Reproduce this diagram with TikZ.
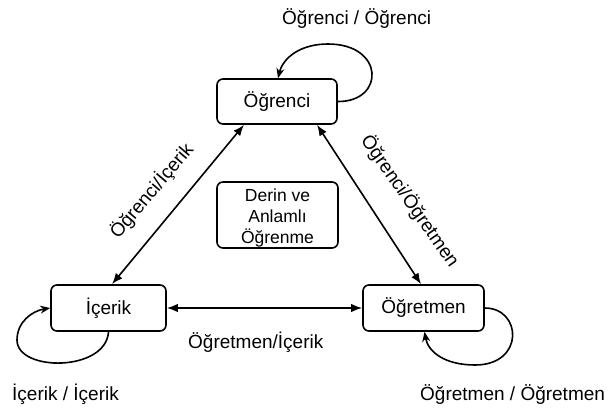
\documentclass[tikz,border=0pt]{standalone}
\usepackage{fontspec}
\setmainfont{Liberation Sans}
\usetikzlibrary{arrows.meta,calc}
\begin{document}
\begin{tikzpicture}[x=1pt,y=-1pt,
  box/.style={draw,line width=1.6pt,rounded corners=6pt,inner sep=0pt,
    font=\fontsize{19}{22}\selectfont},
  lbl/.style={inner sep=0pt,font=\fontsize{19}{22}\selectfont},
  conn/.style={line width=1.6pt,{Latex[length=11pt,width=8.5pt]}-{Latex[length=11pt,width=8.5pt]}},
  selfloop/.style={line width=1.6pt,-{Stealth[length=10pt,width=8pt]}}]
\useasboundingbox (0,0) rectangle (609,410);
% nodes
\node[box,minimum width=120pt,minimum height=45pt] (ogr) at (277,101.5) {Öğrenci};
\node[box,minimum width=115pt,minimum height=46pt] (ice) at (108.5,308) {İçerik};
\node[box,minimum width=121pt,minimum height=46pt] (ogt) at (423.5,308) {Öğretmen};
\node[box,minimum width=121pt,minimum height=66pt,
  font=\fontsize{17.5}{21}\selectfont] (mid) at (277.5,215)
  {\raisebox{-3.5pt}[\height][\depth]{\begin{tabular}{@{}c@{}}Derin ve\\Anlamlı\\Öğrenme\end{tabular}}};
% connectors
\draw[conn] ($(ogr.south)+(-33,0)$) -- ($(ice.north)+(3.5,0)$);
\draw[conn] ($(ogr.south)+(40,0)$) -- ($(ogt.north)+(-2.5,0)$);
\draw[conn] (ice) -- (ogt);
% self loops
\draw[selfloop] (ogr.east) .. controls (385,102) and (385,44) .. (328,44)
  .. controls (300,44) and (283,58) .. ($(ogr.north)+(1,0)$);
\draw[selfloop] (ice.south) .. controls (106,372) and (17,372) .. (17,340)
  .. controls (17,322) and (32,311) .. (ice.west);
\draw[selfloop] (ogt.east) .. controls (522,308) and (525,365) .. (475,365)
  .. controls (445,365) and (428,352) .. ($(ogt.south)+(1,0)$);
% labels
\node[lbl,anchor=base west] (l1) at (282,24) {Öğrenci / Öğrenci};
\node[lbl,anchor=base west] (l2) at (12,400) {İçerik / İçerik};
\node[lbl,anchor=base west] (l3) at (420,400) {Öğretmen / Öğretmen};
\node[lbl,anchor=base west] (l4) at (188,348) {Öğretmen/İçerik};
\node[lbl,rotate=49.6] (l5) at (151.5,191) {Öğrenci/İçerik};
\node[lbl,rotate=-55] (l6) at (410,201) {Öğrenci/Öğretmen};
\end{tikzpicture}
\end{document}
